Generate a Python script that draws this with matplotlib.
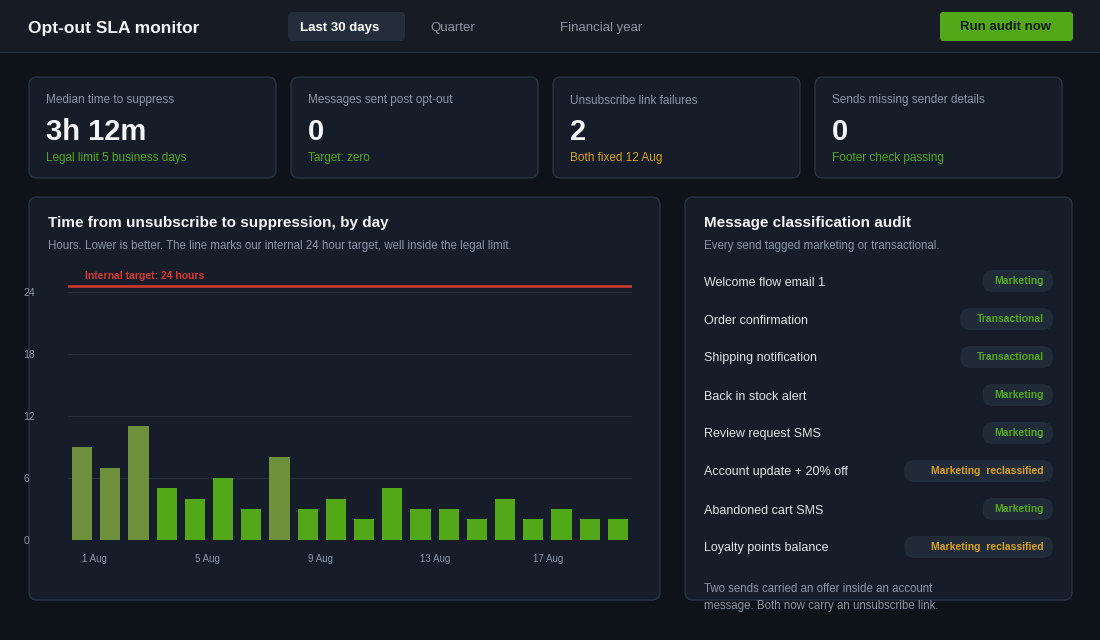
import matplotlib
matplotlib.use("Agg")
import matplotlib.pyplot as plt
from matplotlib.patches import FancyBboxPatch, Rectangle

# data
days = ["1 Aug", "2 Aug", "3 Aug", "4 Aug", "5 Aug", "6 Aug", "7 Aug", "8 Aug", "9 Aug", "10 Aug",
        "11 Aug", "12 Aug", "13 Aug", "14 Aug", "15 Aug", "16 Aug", "17 Aug", "18 Aug", "19 Aug", "20 Aug"]
hours = [9, 7, 11, 5, 4, 6, 3, 8, 3, 4, 2, 5, 3, 3, 2, 4, 2, 3, 2, 2]
target = 24
kpi_titles = ["Median time to suppress", "Messages sent post opt-out",
              "Unsubscribe link failures", "Sends missing sender details"]
kpi_values = ["3h 12m", "0", "2", "0"]
kpi_notes = ["Legal limit 5 business days", "Target: zero", "Both fixed 12 Aug", "Footer check passing"]
kpi_warn = [False, False, True, False]
messages = ["Welcome flow email 1", "Order confirmation", "Shipping notification", "Back in stock alert",
            "Review request SMS", "Account update + 20% off", "Abandoned cart SMS", "Loyalty points balance"]
tags = ["Marketing", "Transactional", "Transactional", "Marketing",
        "Marketing", "Marketing  reclassified", "Marketing", "Marketing  reclassified"]

BG = "#0e1219"
CARD = "#161d28"
EDGE = "#2a3342"
GREEN = "#52a818"
OLIVE = "#6e8f3c"
AMBER = "#d9a21b"
MUTED = "#8b95a5"
W, H = 1100, 640

plt.rcParams["font.family"] = ["Liberation Sans", "DejaVu Sans"]
fig = plt.figure(figsize=(11, 6.4), dpi=100, facecolor=BG)


def fx(x):
    return x / W


def fy(y):
    return 1 - y / H


def box(x, y, w, h, fc, ec="none", r=8, z=0):
    fig.patches.append(FancyBboxPatch((fx(x), fy(y + h)), fx(w), h / H,
                                      boxstyle=f"round,pad=0,rounding_size={r / W}",
                                      transform=fig.transFigure, fc=fc, ec=ec, lw=1, zorder=z,
                                      mutation_aspect=W / H))


def txt(x, y, s, size=10, color="white", weight="normal", ha="left"):
    fig.text(fx(x), fy(y + 1.5), s, fontsize=size, color=color, fontweight=weight, ha=ha, va="center")


# header
fig.patches.append(Rectangle((0, fy(52)), 1, 52 / H, transform=fig.transFigure, fc="#161b24", zorder=0))
fig.patches.append(Rectangle((0, fy(53)), 1, 1 / H, transform=fig.transFigure, fc=EDGE, zorder=0))
txt(28, 27, "Opt-out SLA monitor", 12.5, "#f2f4f7", "bold")
box(288, 12, 117, 29, "#242d3b", r=4)
txt(300, 26, "Last 30 days", 9.5, "white", "bold")
txt(430, 26, "Quarter", 9.5, MUTED)
txt(560, 26, "Financial year", 9.5, MUTED)
box(940, 12, 133, 29, GREEN, r=3)
txt(1006, 26, "Run audit now", 9.5, "#0e1a05", "bold", "center")

# KPI cards
for i in range(4):
    x = 29 + i * 262
    box(x, 77, 247, 101, CARD, EDGE)
    txt(x + 17, 99, kpi_titles[i], 8.5, MUTED)
    txt(x + 17, 130, kpi_values[i], 21, "#f2f4f7", "bold")
    txt(x + 17, 157, kpi_notes[i], 8.5, AMBER if kpi_warn[i] else GREEN)

# chart card
box(29, 197, 631, 403, CARD, EDGE)
txt(48, 222, "Time from unsubscribe to suppression, by day", 11, "#f2f4f7", "bold")
txt(48, 244, "Hours. Lower is better. The line marks our internal 24 hour target, well inside the legal limit.", 8.3, MUTED)

ax = fig.add_axes([fx(68), fy(540), fx(564), 256 / H])
ax.set_zorder(5)
ax.set_facecolor("none")
x = list(range(len(days)))
colors = [OLIVE if v >= 7 else GREEN for v in hours]
ax.bar(x, hours, width=0.72, color=colors, zorder=2)
ax.axhline(target + 0.6, color="#d63a2f", lw=1.8, zorder=3)
ax.text(0.1, target + 1.1, "Internal target: 24 hours", color="#d63a2f", fontsize=7.5,
        fontweight="bold", va="bottom", ha="left")
ax.set_xlim(-0.5, len(days) - 0.5)
ax.set_ylim(0, 24.8)
ax.set_yticks([0, 6, 12, 18, 24])
ax.grid(axis="y", color="#252d3a", lw=0.8, zorder=0)
ax.set_xticks(x[::4])
ax.set_xticklabels(days[::4], ha="left")
ax.tick_params(axis="x", colors=MUTED, labelsize=7, length=0, pad=10)
ax.tick_params(axis="y", colors=MUTED, labelsize=7.5, length=0, pad=32)
for lab in ax.get_xticklabels():
    lab.set_horizontalalignment("left")
for lab in ax.get_yticklabels():
    lab.set_horizontalalignment("left")
for s in ax.spines.values():
    s.set_visible(False)

# classification card
box(685, 197, 387, 403, CARD, EDGE)
txt(704, 222, "Message classification audit", 11, "#f2f4f7", "bold")
txt(704, 244, "Every send tagged marketing or transactional.", 8.3, MUTED)
for i, (m, t) in enumerate(zip(messages, tags)):
    y = 281 + i * 38
    txt(704, y, m, 9, "#dfe3ea")
    warn = "reclassified" in t
    tw = len(t) * 5.6 + 20
    box(1053 - tw, y - 11, tw, 22, "#212a37", r=10)
    txt(1044, y - 2, t, 7.5, AMBER if warn else GREEN, "bold", "right")
txt(704, 587, "Two sends carried an offer inside an account", 8.3, MUTED)
txt(704, 605, "message. Both now carry an unsubscribe link.", 8.3, MUTED)

fig.savefig("out.png", dpi=100, facecolor=BG)
